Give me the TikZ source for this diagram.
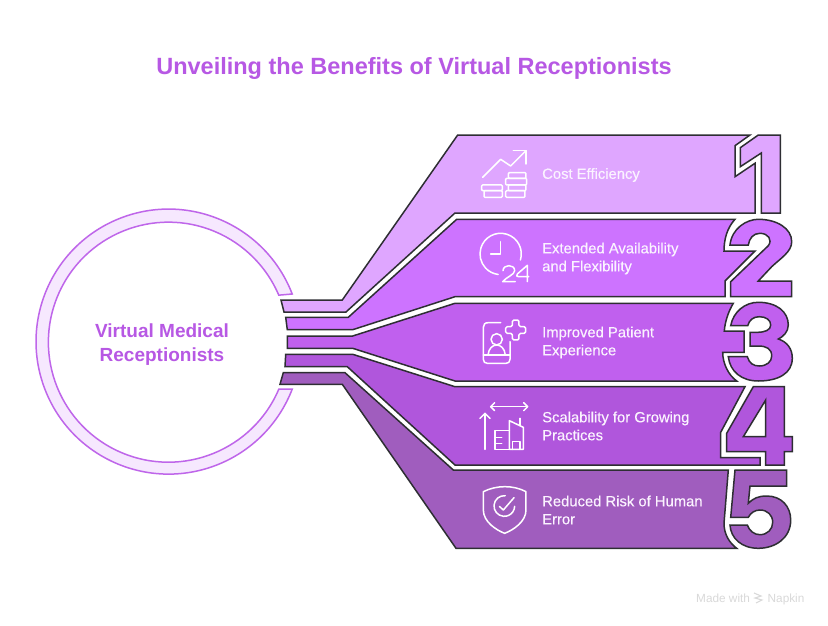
\documentclass[tikz,border=0pt]{standalone}
\usepackage{fontspec}
\setmainfont{Liberation Sans}
\newfontfamily\medfont[FakeBold=0.25]{Liberation Sans}
\definecolor{bandA}{HTML}{DFA6FF}
\definecolor{bandB}{HTML}{CD73FF}
\definecolor{bandC}{HTML}{C060EE}
\definecolor{bandD}{HTML}{B056DC}
\definecolor{bandE}{HTML}{A05DBE}
\definecolor{edgeC}{HTML}{2E2E33}
\definecolor{ringF}{HTML}{F6E8FE}
\definecolor{ringS}{HTML}{BF66EA}
\definecolor{titleC}{HTML}{B758E4}
\definecolor{markC}{HTML}{D9D9D9}
\definecolor{labelC}{HTML}{FBF3FF}
\tikzset{
  band/.style={draw=edgeC,line width=1.5pt,line join=miter,even odd rule},
  iconline/.style={draw=white,line width=1.5pt,line cap=round,line join=round},
  label/.style={anchor=west,align=left,text=labelC,inner sep=0pt,font=\medfont\fontsize{14.8}{18}\selectfont},
  iconA/.style={shift={(470,140)},x=.3333pt,y=-.3333pt},
  iconB/.style={shift={(470,310)},x=.3333pt,y=-.3333pt},
  iconC/.style={shift={(470,475)},x=.3333pt,y=-.3333pt},
}
\begin{document}
\begin{tikzpicture}[x=1pt,y=-1pt]
\useasboundingbox (0,0) rectangle (828,626);
\fill[white] (0,0) rectangle (828,626);
% ring
\draw[fill=ringF,draw=ringS,line width=1.5pt,line join=miter]
  (292.2,294) arc[start angle=-21.05,end angle=-338.95,radius=132.5]
  -- (278.8,389.2) arc[start angle=-336.93,end angle=-23.07,radius=120] -- cycle;
% band 1
\path[band,fill=bandA] (281,300) -- (342.3,300) -- (457.7,135) -- (750,135) -- (735,145.7) -- (735,176.7) -- (755,163.3) -- (755,213) -- (455,213) -- (346,312) -- (284,312) -- cycle;
\path[band,fill=bandA] (758.3,135) -- (780.3,135) -- (780.3,213) -- (761.3,213) -- (761.3,153) -- (740.3,166.7) -- (740.3,147.7) -- cycle;
% band 2
\path[band,fill=bandB] (285.7,317.3) -- (348.3,317.3) -- (456.7,219.3) -- (735,219.3) .. controls (726.7,228.3) and (724,240) .. (724,251) -- (755,251) -- (725,281) -- (725,296.7) -- (455,296.7) -- (352.7,329.7) -- (287.3,329.7) -- cycle;
\path[band,fill=bandB] (730,245) .. controls (731.7,228.3) and (746.7,219.3) .. (758.3,219.3) .. controls (776.7,219.3) and (791.7,228.3) .. (791.7,241.7) .. controls (791.7,251.7) and (781,258) .. (771.7,266.7) -- (758.3,281) -- (791.7,281) -- (791.7,296.7) -- (730.7,296.7) -- (730.7,281.7) -- (768.3,245.7) .. controls (772.7,240) and (768.3,233.3) .. (760,233.3) .. controls (753.3,233.3) and (749.3,238.3) .. (748.3,245) -- cycle;
% band 3
\path[band,fill=bandC] (287.3,336) -- (352.7,336) -- (455,303.3) -- (733.3,303.3) .. controls (728.3,311.7) and (725,321.7) .. (724.3,331) -- (744,331) -- (744,352.3) -- (722.7,352.3) .. controls (722.7,363.3) and (728.3,375) .. (736.7,381) -- (455,381) -- (352.7,348.3) -- (287.3,348.3) -- cycle;
\path[band,fill=bandC] (730.7,325.7) .. controls (733.3,311.7) and (745,302.3) .. (758.3,302.3) .. controls (776.7,302.3) and (788.3,311.7) .. (788.3,325) .. controls (788.3,331.7) and (783.3,336.7) .. (778.3,339) .. controls (786.7,341.7) and (792.3,348.3) .. (792.3,358.3) .. controls (792.3,373.3) and (778.3,381) .. (758.3,381) .. controls (741.7,381) and (730,371.7) .. (728.3,356.7) -- (747.3,356.7) .. controls (749.3,363.3) and (753.3,366) .. (759.3,366) .. controls (766.7,366) and (771.7,361.7) .. (771.7,356) .. controls (771.7,349) and (766.7,346) .. (758.3,346) -- (750,346) -- (750,332.3) -- (757.3,332.3) .. controls (765,332.3) and (770.7,330) .. (770.7,325) .. controls (770.7,320) and (766,316.7) .. (759.3,316.7) .. controls (753.3,316.7) and (749.3,320) .. (747.7,325.7) -- cycle;
% band 4
\path[band,fill=bandD] (285.7,354.3) -- (352.7,354.3) -- (455,386.7) -- (745,386.7) -- (720.7,432.3) -- (720.7,457.7) -- (760,457.7) -- (760,465) -- (455,465) -- (347.3,366.7) -- (285,366.7) -- cycle;
\path[band,fill=bandD] (753.3,386.7) -- (784.3,386.7) -- (784.3,436.7) -- (792.3,436.7) -- (792.3,451.7) -- (784.3,451.7) -- (784.3,465) -- (765.7,465) -- (765.7,451.7) -- (726.7,451.7) -- (726.7,433.3) -- cycle (765.7,400) -- (765.7,436.7) -- (743.3,436.7) -- cycle;
% band 5
\path[band,fill=bandE] (283.3,372.7) -- (345,372.7) -- (453.3,470) -- (728.3,470) -- (724,523.3) .. controls (724,535) and (730,543.3) .. (736.7,548.3) -- (456,548.3) -- (342.3,384.3) -- (280,384.3) -- cycle;
\path[band,fill=bandE] (735,470) -- (786.7,470) -- (786.7,486) -- (750,486) -- (748.3,503.3) .. controls (753.3,498.3) and (758.3,496) .. (766.7,496) .. controls (781.7,496) and (790.7,506.7) .. (790.7,520) .. controls (790.7,538.3) and (775,548.3) .. (758.3,548.3) .. controls (741.7,548.3) and (730.7,538.3) .. (730,525) -- (747.3,525) .. controls (749.3,530.7) and (754,534.7) .. (760,534.7) .. controls (767.3,534.7) and (772.7,529.3) .. (772.7,522.3) .. controls (772.7,515) and (767.3,510) .. (760,510) .. controls (755,510) and (750.7,512.7) .. (748.3,517.3) -- (730.7,517.3) -- cycle;
% icon 1
\begin{scope}[iconA]
\draw[iconline] (38,112) -- (92,58) -- (122,78) -- (168,32);
\draw[iconline] (130,32) -- (168,32) -- (168,72);
\draw[iconline,rounded corners=1pt] (35,135) rectangle (97,152);
\draw[iconline,rounded corners=1pt] (42,152) rectangle (97,172);
\draw[iconline,rounded corners=1pt] (115,98) rectangle (168,115);
\draw[iconline,rounded corners=1pt] (107,115) rectangle (170,135);
\draw[iconline,rounded corners=1pt] (115,135) rectangle (168,152);
\draw[iconline,rounded corners=1pt] (107,152) rectangle (165,172);
% icon 2
\draw[iconline] (151.3,360) arc[start angle=17,end angle=-263,radius=62];
\draw[iconline] (92,305) -- (92,342) -- (62,342);
\draw[iconline] (99,392) .. controls (100,372) and (134,372) .. (134,392) .. controls (134,404) and (108,412) .. (98,425) -- (136,425);
\draw[iconline] (172,425) -- (172,376) -- (142,402) .. controls (138,408) and (140,410) .. (146,410) -- (176,410);
\end{scope}
% icon 3
\begin{scope}[iconB]
\draw[iconline] (92,38) -- (55,38) .. controls (45,38) and (40,43) .. (40,52) -- (40,148) .. controls (40,156) and (45,160) .. (52,160) -- (108,160) .. controls (115,160) and (120,156) .. (120,148) -- (120,95);
\draw[iconline] (40,135) -- (120,135);
\draw[iconline] (80,88) circle[radius=17];
\draw[iconline] (54,135) .. controls (56,115) and (68,105) .. (80,105) .. controls (92,105) and (104,115) .. (106,135);
\draw[iconline,rounded corners=1.5pt] (127,30) -- (147,30) -- (147,50) -- (167,50) -- (167,70) -- (147,70) -- (147,90) -- (127,90) -- (127,70) -- (107,70) -- (107,50) -- (127,50) -- cycle;
% icon 4
\draw[iconline] (45,418) -- (45,310);
\draw[iconline] (30,325) -- (45,310) -- (60,325);
\draw[iconline] (62,290) -- (173,290);
\draw[iconline] (74,278) -- (62,290) -- (74,302);
\draw[iconline] (161,278) -- (173,290) -- (161,302);
\draw[iconline] (118,418) -- (75,418) -- (75,362) -- (118,362);
\draw[iconline] (75,382) -- (95,382) (75,400) -- (95,400);
\draw[iconline] (118,418) -- (118,332) -- (160,352) -- (160,418) -- (118,418);
\draw[iconline] (128,418) -- (128,395) -- (150,395) -- (150,418);
\draw[iconline] (150,325) -- (150,347);
\end{scope}
% icon 5
\begin{scope}[iconC]
\draw[iconline] (40,50) .. controls (80,30) and (130,30) .. (168,50) -- (168,105) .. controls (168,140) and (130,165) .. (104,175) .. controls (78,165) and (40,140) .. (40,105) -- cycle;
\draw[iconline] (105.7,62.1) arc[start angle=-85,end angle=-358,radius=31];
\draw[iconline] (88,94) -- (100,105) -- (132,68);
\end{scope}
% texts
\node[anchor=center,inner sep=0pt,text=titleC,font=\bfseries\fontsize{23.5}{28}\selectfont] (title) at (414,68) {Unveiling the Benefits of Virtual Receptionists};
\node[anchor=center,align=center,inner sep=0pt,text=titleC,font=\bfseries\fontsize{19}{24}\selectfont] (centre) at (162,344.5) {Virtual Medical\\Receptionists};
\node[label] (labA) at (542,175) {Cost Efficiency};
\node[label] (labB) at (542,258.5) {Extended Availability\\and Flexibility};
\node[label] (labC) at (542,342.5) {Improved Patient\\Experience};
\node[label] (labD) at (542,426) {Scalability for Growing\\Practices};
\node[label] (labE) at (542,510) {Reduced Risk of Human\\Error};
\node[anchor=base west,inner sep=0pt,text=markC,font=\fontsize{11.8}{13}\selectfont] (madewith) at (696,602) {Made with};
\node[anchor=base west,inner sep=0pt,text=markC,font=\fontsize{11.8}{13}\selectfont] (napkin) at (767.5,602) {Napkin};
\draw[markC,line width=1.1pt] (754,593) -- (761,596) -- (755,598) -- (762,600) -- (756,603);
\end{tikzpicture}
\end{document}
